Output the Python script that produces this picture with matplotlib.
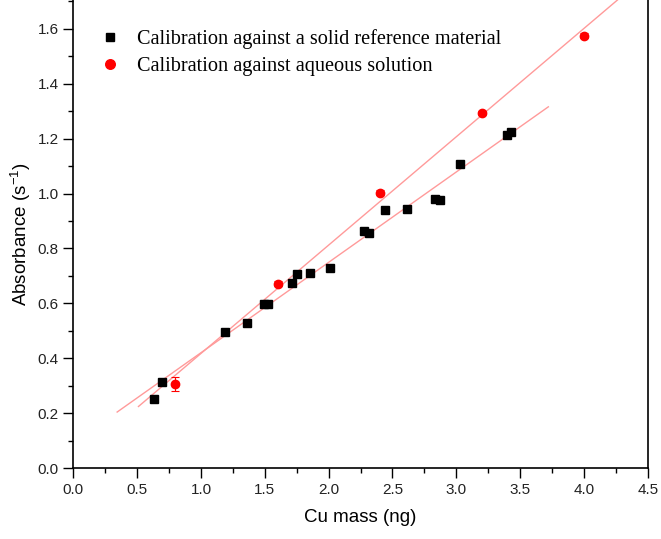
import numpy as np
import matplotlib
matplotlib.use("Agg")
import matplotlib.pyplot as plt
from matplotlib.ticker import MultipleLocator

# solid reference material (black squares)
solid_mass = [0.633, 0.695, 1.19, 1.359, 1.49, 1.525, 1.716, 1.755, 1.85, 2.014,
              2.28, 2.316, 2.445, 2.61, 2.836, 2.872, 3.03, 3.40, 3.431]
solid_abs = [0.253, 0.313, 0.496, 0.530, 0.599, 0.599, 0.675, 0.706, 0.712, 0.727,
             0.864, 0.856, 0.940, 0.943, 0.981, 0.975, 1.108, 1.213, 1.224]

# aqueous solution (red circles)
aq_mass = [0.8, 1.6, 2.4, 3.2, 4.0]
aq_abs = [0.307, 0.672, 1.003, 1.293, 1.575]
aq_err = [0.025, 0.008, 0.008, 0.008, 0.008]

fit_color = "#ff9a9a"

fig = plt.figure(figsize=(6.61, 5.39), dpi=100)
ax = fig.add_axes([0.111, 0.1317, 0.869, 0.8683])

# linear fits, drawn a bit past the data range
for xs, ys in [(solid_mass, solid_abs), (aq_mass, aq_abs)]:
    k, b = np.polyfit(xs, ys, 1)
    xl = np.array([min(xs) - 0.29, max(xs) + 0.29])
    ax.plot(xl, k * xl + b, color=fit_color, lw=1.0, zorder=1)

ax.plot(solid_mass, solid_abs, "s", color="black", ms=5.3, zorder=3,
        label="Calibration against a solid reference material")
ax.errorbar(aq_mass, aq_abs, yerr=aq_err, fmt="none", ecolor="red",
            capsize=3, elinewidth=0.8, capthick=0.8, zorder=2)
ax.plot(aq_mass, aq_abs, "o", color="red", ms=6, zorder=3,
        label="Calibration against aqueous solution")

ax.set_xlim(0, 4.5)
ax.set_ylim(0, 1.705)
ax.xaxis.set_major_locator(MultipleLocator(0.5))
ax.xaxis.set_minor_locator(MultipleLocator(0.25))
ax.yaxis.set_major_locator(MultipleLocator(0.2))
ax.yaxis.set_minor_locator(MultipleLocator(0.1))
ax.tick_params(which="major", direction="out", length=7, width=1.0, labelsize=11,
               labelcolor="#222222")
ax.tick_params(which="minor", direction="out", length=3.5, width=1.0)
ax.set_xticklabels([f"{v:.1f}" for v in ax.get_xticks()])
ax.set_yticklabels([f"{v:.1f}" for v in ax.get_yticks()])
for lbl in ax.get_xticklabels() + ax.get_yticklabels():
    lbl.set_family("Liberation Sans")

ax.spines["top"].set_visible(False)
for s in ["left", "right", "bottom"]:
    ax.spines[s].set_linewidth(1.2)

ax.set_xlabel("Cu mass (ng)", family="Liberation Sans", fontsize=13.5, labelpad=9)
ax.set_ylabel("Absorbance (s$^{\\mathregular{-1}}$)", family="Liberation Sans",
              fontsize=13.5, labelpad=3)

ax.legend(loc="upper left", bbox_to_anchor=(0.0143, 0.976), frameon=False,
          prop={"family": "Liberation Serif", "size": 14.6},
          handlelength=1.0, handletextpad=0.84, labelspacing=0.35,
          markerscale=1.15)

fig.savefig("out.png", dpi=100)
